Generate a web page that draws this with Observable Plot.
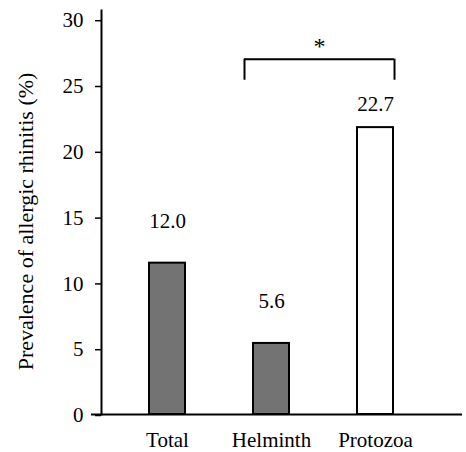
<!DOCTYPE html>
<html>
<head>
<meta charset="utf-8">
<script src="https://cdn.jsdelivr.net/npm/d3@7"></script>
<script src="https://cdn.jsdelivr.net/npm/@observablehq/plot@0.6"></script>
<style>
  html, body { margin: 0; padding: 0; background: white; }
</style>
</head>
<body>
<div id="chart"></div>
<script>
const categories = ["Total", "Helminth", "Protozoa"];
const barValues = [11.5, 5.4, 21.8];
const valueLabels = ["12.0", "5.6", "22.7"];
const labelY = [14.2, 8.1, 23.1];
const barFills = ["#737373", "#737373", "white"];
const yTicks = [0, 5, 10, 15, 20, 25, 30];
const yTitle = "Prevalence of allergic rhinitis (%)";
const sigPair = ["Helminth", "Protozoa"];
const sigTop = 27;
const sigBottom = 25.4;
const sigMark = "*";
const sigMarkY = 27.4;

const serif = "Liberation Serif";

const rows = categories.map((c, i) => ({
  category: c, value: barValues[i], label: valueLabels[i], labelY: labelY[i], fill: barFills[i]
}));

const chart = Plot.plot({
  width: 466,
  height: 452,
  marginLeft: 101,
  marginRight: 4,
  marginTop: 10,
  marginBottom: 38,
  style: { fontFamily: serif, background: "white", color: "black" },
  x: { type: "band", domain: categories, range: [101, 441], paddingInner: 0.657, paddingOuter: 0.448, label: null },
  y: { domain: [0, 30.7], label: null },
  color: { type: "identity" },
  marks: [
    Plot.barY(rows, { x: "category", y: "value", fill: "fill", stroke: "black", strokeWidth: 2 }),
    Plot.text(rows, { x: "category", y: "labelY", text: "label", lineAnchor: "bottom", fontSize: 21, fontFamily: serif, fill: "black" }),
    Plot.ruleY([sigTop], { x1: () => sigPair[0], x2: () => sigPair[1], insetLeft: -9, insetRight: -1, strokeWidth: 2 }),
    Plot.ruleX([sigPair[0]], { x: d => d, y1: sigBottom, y2: sigTop, dx: -27, strokeWidth: 2 }),
    Plot.ruleX([sigPair[1]], { x: d => d, y1: sigBottom, y2: sigTop, dx: 19, strokeWidth: 2 }),
    Plot.text([sigMark], { x: () => sigPair[0], y: sigMarkY, text: d => d, dx: 48, lineAnchor: "bottom", fontSize: 24, fontFamily: serif }),
    Plot.axisY({ ticks: yTicks, tickSize: 6, tickPadding: 12, fontSize: 21, fontFamily: serif, label: null, strokeWidth: 1.5, dy: 1 }),
    Plot.axisX({ tickSize: 0, tickPadding: 18, fontSize: 21, fontFamily: serif, label: null }),
    Plot.frame({ anchor: "left", strokeWidth: 2 }),
    Plot.ruleY([0], { insetLeft: -10, strokeWidth: 2 }),
    Plot.text([yTitle], { frameAnchor: "left", textAnchor: "middle", text: d => d, rotate: -90, dx: -76, dy: 9, fontSize: 22, fontFamily: serif })
  ]
});
document.getElementById("chart").appendChild(chart);
</script>
</body>
</html>
